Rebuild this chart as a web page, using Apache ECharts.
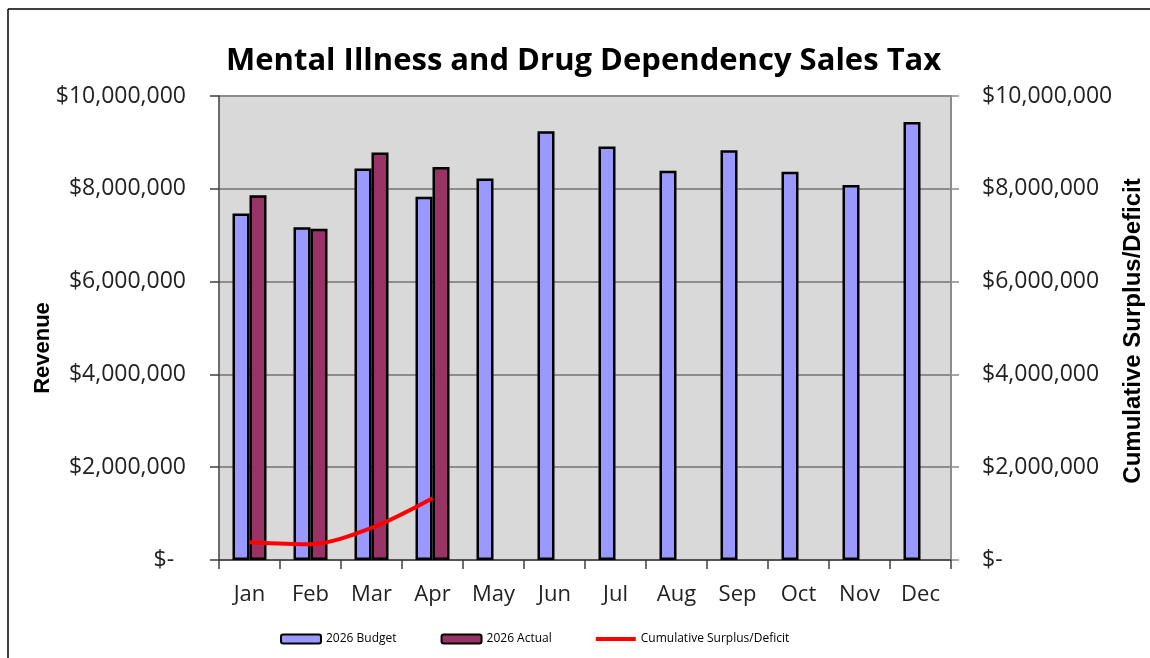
<!DOCTYPE html>
<html>
<head>
<meta charset="utf-8">
<script src="https://cdn.jsdelivr.net/npm/echarts@6/dist/echarts.min.js"></script>
<style>html,body{margin:0;padding:0;background:#fff;}#c{width:1150px;height:658px;}</style>
</head>
<body>
<div id="c"></div>
<script>
const months = ['Jan','Feb','Mar','Apr','May','Jun','Jul','Aug','Sep','Oct','Nov','Dec'];
const budget2026 = [7470000, 7170000, 8440000, 7830000, 8220000, 9240000, 8910000, 8390000, 8830000, 8370000, 8080000, 9440000];
const actual2026 = [7860000, 7140000, 8780000, 8470000, null, null, null, null, null, null, null, null];
const cumulative = [384000, 340000, 690000, 1330000, null, null, null, null, null, null, null, null];
const yMin = 0, yMax = 10000000, yStep = 2000000;

const fmt = v => v === 0 ? '$-  ' : '$' + v.toLocaleString('en-US');
const chart = echarts.init(document.getElementById('c'));
const F = '"Open Sans", sans-serif';
chart.setOption({
  animation: false,
  title: {
    text: 'Mental Illness and Drug Dependency Sales Tax',
    left: 226, top: 46, padding: 0,
    textStyle: { fontFamily: F, fontWeight: 'bold', fontSize: 31, color: '#000' }
  },
  legend: {
    left: 275, top: 628, itemWidth: 40, itemHeight: 9, itemGap: 44,
    textStyle: { fontFamily: F, fontSize: 12, color: '#000' },
    data: [
      { name: '2026 Budget', itemStyle: { color: '#9999ff', borderColor: '#000', borderWidth: 2 } },
      { name: '2026 Actual', itemStyle: { color: '#993366', borderColor: '#000', borderWidth: 2 } },
      { name: 'Cumulative Surplus/Deficit', icon: 'path://M0,0 L40,0 L40,4 L0,4 Z', itemStyle: { color: '#ff0000', borderWidth: 0 } }
    ]
  },
  grid: { left: 219, right: 199, top: 96, height: 464, show: true, backgroundColor: '#d9d9d9', borderWidth: 0 },
  xAxis: {
    type: 'category', data: months,
    axisLine: { lineStyle: { color: '#404040', width: 1.5 } },
    axisTick: { show: true, length: 9, lineStyle: { color: '#404040', width: 1.5 } },
    axisLabel: { fontFamily: F, fontSize: 22, color: '#222', margin: 24 }
  },
  yAxis: [
    {
      type: 'value', min: yMin, max: yMax, interval: yStep, position: 'left',
      axisLine: { show: true, lineStyle: { color: '#404040', width: 1.5 } },
      axisTick: { show: true, length: 9, lineStyle: { color: '#404040', width: 1.5 } },
      splitLine: { show: true, lineStyle: { color: '#8c8c8c', width: 2 } },
      axisLabel: { fontFamily: F, fontSize: 23, color: '#222', margin: 33, formatter: fmt }
    },
    {
      type: 'value', min: yMin, max: yMax, interval: yStep, position: 'right',
      axisLine: { show: true, lineStyle: { color: '#8c8c8c', width: 2 } },
      axisTick: { show: true, length: 8, lineStyle: { color: '#8c8c8c', width: 1.5 } },
      splitLine: { show: false },
      axisLabel: { fontFamily: F, fontSize: 23, color: '#222', margin: 31, formatter: v => v === 0 ? '$-' : '$' + v.toLocaleString('en-US') }
    }
  ],
  graphic: [
    { type: 'line', shape: { x1: 8, y1: 9, x2: 1150, y2: 9 }, style: { stroke: '#000', lineWidth: 1.5 } },
    { type: 'line', shape: { x1: 8, y1: 9, x2: 8, y2: 658 }, style: { stroke: '#000', lineWidth: 1.5 } },
    { type: 'text', x: 43, y: 348, rotation: Math.PI / 2,
      style: { text: 'Revenue', align: 'center', verticalAlign: 'middle', font: 'bold 22px "Liberation Sans", Arial, sans-serif', fill: '#000' } },
    { type: 'text', x: 1133, y: 331, rotation: Math.PI / 2,
      style: { text: 'Cumulative Surplus/Deficit', align: 'center', verticalAlign: 'middle', font: 'bold 24px "Liberation Sans", Arial, sans-serif', fill: '#000' } }
  ],
  series: [
    { name: '2026 Budget', type: 'bar', data: budget2026, barWidth: 17, barGap: '0%',
      itemStyle: { color: '#9999ff', borderColor: '#000', borderWidth: 2.5 } },
    { name: '2026 Actual', type: 'bar', data: actual2026, barWidth: 17,
      itemStyle: { color: '#993366', borderColor: '#000', borderWidth: 2.5 } },
    { name: 'Cumulative Surplus/Deficit', type: 'line', yAxisIndex: 1, data: cumulative,
      smooth: 0.3, symbol: 'none', z: 5,
      lineStyle: { color: '#ff0000', width: 4 }, itemStyle: { color: '#ff0000' } }
  ]
});
</script>
</body>
</html>
